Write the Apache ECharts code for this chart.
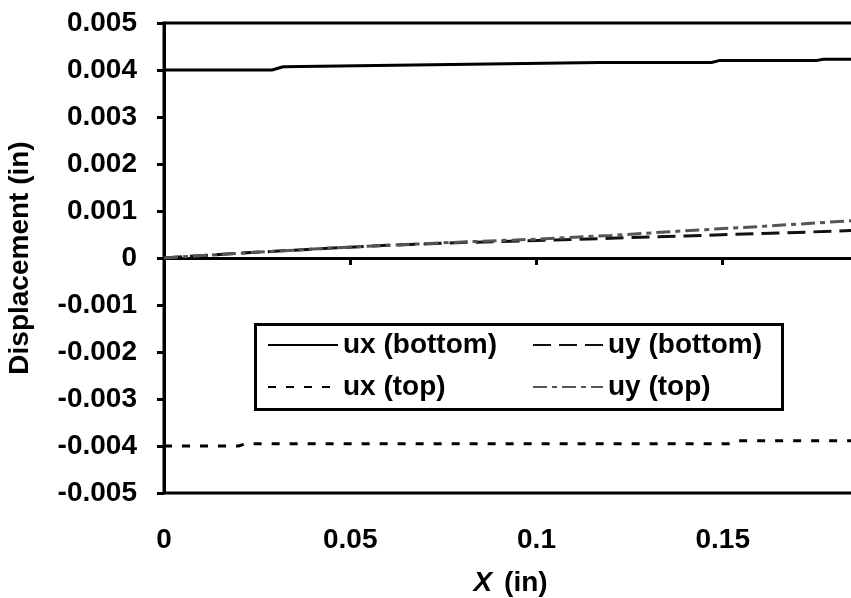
<!DOCTYPE html>
<html>
<head>
<meta charset="utf-8">
<script src="https://cdn.jsdelivr.net/npm/echarts@6/dist/echarts.min.js"></script>
<style>html,body{margin:0;padding:0;background:#fff}#c{width:851px;height:598px}</style>
</head>
<body>
<div id="c"></div>
<script>
// ---- data ----
const uxBottomX = [0, 0.029, 0.032, 0.117, 0.147, 0.149, 0.175, 0.177, 0.19];
const uxBottomY = [0.0040, 0.0040, 0.00407, 0.00416, 0.00416, 0.0042, 0.0042, 0.00423, 0.00423];

const uxTopX = [0, 0.020, 0.022, 0.152, 0.154, 0.19];
const uxTopY = [-0.0040, -0.0040, -0.00395, -0.00395, -0.00389, -0.00389];

const uyX = [0, 0.02, 0.04, 0.06, 0.08, 0.10, 0.12, 0.14, 0.16, 0.18, 0.19];
const uyBottomY = [0, 0.00010, 0.00019, 0.00027, 0.00033, 0.00037, 0.00042, 0.00047, 0.00052, 0.00057, 0.00060];
const uyTopY    = [0, 0.00010, 0.00019, 0.00027, 0.00034, 0.00040, 0.00048, 0.00058, 0.00067, 0.00077, 0.00082];

const seriesNames = ['ux (bottom)', 'uy (bottom)', 'ux (top)', 'uy (top)'];
const yTicks = {min: -0.005, max: 0.005, step: 0.001};
const xTicks = {min: 0, max: 0.2, step: 0.05};

const pairs = (xs, ys) => xs.map((x, i) => [x, ys[i]]);
const FONT = '"Liberation Sans", Arial, sans-serif';
const FS = 28;

const chart = echarts.init(document.getElementById('c'), null, {renderer: 'canvas'});
chart.setOption({
  animation: false,
  backgroundColor: '#fff',
  grid: {left: 164, top: 23, height: 470, width: 745, show: true, borderColor: '#000', borderWidth: 3,
         containLabel: false, outerBoundsMode: 'none'},
  xAxis: {
    type: 'value', min: xTicks.min, max: xTicks.max, interval: xTicks.step,
    name: '{i|X}{s| }{n|(in)}', nameLocation: 'middle', nameGap: 76,
    nameTextStyle: {padding: [0, 52, 0, 0], rich: {
      i: {fontFamily: FONT, fontSize: FS, fontWeight: 'bold', fontStyle: 'italic', color: '#000'},
      s: {fontFamily: FONT, fontSize: FS, width: 12},
      n: {fontFamily: FONT, fontSize: FS, fontWeight: 'bold', color: '#000'}
    }},
    axisLine: {lineStyle: {color: '#000', width: 3}},
    axisTick: {inside: false, length: 7, lineStyle: {color: '#000', width: 3}},
    axisLabel: {margin: 33, fontFamily: FONT, fontSize: FS, fontWeight: 'bold', color: '#000',
      formatter: v => String(Math.round(v * 1000) / 1000)},
    splitLine: {show: false}
  },
  yAxis: {
    type: 'value', min: yTicks.min, max: yTicks.max, interval: yTicks.step,
    name: 'Displacement (in)', nameLocation: 'middle', nameGap: 130,
    nameTextStyle: {fontFamily: FONT, fontSize: FS, fontWeight: 'bold', color: '#000'},
    axisLine: {lineStyle: {color: '#000', width: 3}},
    axisTick: {inside: false, length: 7, lineStyle: {color: '#000', width: 3}},
    axisLabel: {margin: 27, fontFamily: FONT, fontSize: FS, fontWeight: 'bold', color: '#000',
      formatter: v => String(Math.round(v * 1000) / 1000)},
    splitLine: {show: false}
  },
  legend: [
    {data: [seriesNames[0], seriesNames[2]], orient: 'vertical', left: 267, top: 330,
     itemWidth: 70, itemHeight: 14, itemGap: 12, padding: 0,
     itemStyle: {opacity: 0},
     textStyle: {fontFamily: FONT, fontSize: FS, fontWeight: 'bold', color: '#000', lineHeight: 30}},
    {data: [seriesNames[1], seriesNames[3]], orient: 'vertical', left: 532, top: 330,
     itemWidth: 70, itemHeight: 14, itemGap: 12, padding: 0,
     itemStyle: {opacity: 0},
     textStyle: {fontFamily: FONT, fontSize: FS, fontWeight: 'bold', color: '#000', lineHeight: 30}}
  ],
  graphic: [{type: 'rect', left: 253, top: 322, shape: {width: 527, height: 85},
    style: {fill: 'none', stroke: '#000', lineWidth: 3}, z: 100}],
  series: [
    {name: seriesNames[0], type: 'line', symbol: 'none', data: pairs(uxBottomX, uxBottomY),
     lineStyle: {color: '#000', width: 3, type: 'solid'}, itemStyle: {color: '#000'}},
    {name: seriesNames[1], type: 'line', symbol: 'none', data: pairs(uyX, uyBottomY),
     lineStyle: {color: '#111', width: 3, type: [18, 8]}, itemStyle: {color: '#111'}},
    {name: seriesNames[2], type: 'line', symbol: 'none', data: pairs(uxTopX, uxTopY),
     lineStyle: {color: '#000', width: 3, type: [8, 10]}, itemStyle: {color: '#000'}},
    {name: seriesNames[3], type: 'line', symbol: 'none', data: pairs(uyX, uyTopY),
     lineStyle: {color: '#555', width: 3, type: [14, 5, 5, 5]}, itemStyle: {color: '#555'}}
  ]
});
</script>
</body>
</html>
